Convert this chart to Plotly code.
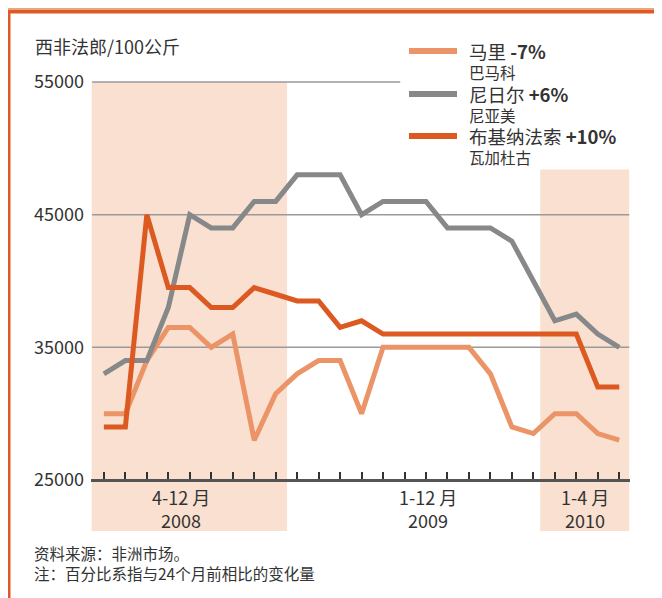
import plotly.graph_objects as go

# monthly prices, April 2008 - April 2010 (CFA francs / 100 kg)
years = ["2008", "2009", "2010"]
year_months = [list(range(4, 13)), list(range(1, 13)), list(range(1, 5))]
month_labels = ["4-12 月", "1-12 月", "1-4 月"]
months = [f"{y}-{m:02d}" for y, ms in zip(years, year_months) for m in ms]

mali = [30000, 30000, 34000, 36500, 36500, 35000, 36000, 28000, 31500, 33000,
        34000, 34000, 30000, 35000, 35000, 35000, 35000, 35000, 33000, 29000,
        28500, 30000, 30000, 28500, 28000]
niger = [33000, 34000, 34000, 38000, 45000, 44000, 44000, 46000, 46000, 48000,
         48000, 48000, 45000, 46000, 46000, 46000, 44000, 44000, 44000, 43000,
         40000, 37000, 37500, 36000, 35000]
burkina = [29000, 29000, 45000, 39500, 39500, 38000, 38000, 39500, 39000, 38500,
           38500, 36500, 37000, 36000, 36000, 36000, 36000, 36000, 36000, 36000,
           36000, 36000, 36000, 32000, 32000]

countries = ["马里", "尼日尔", "布基纳法索"]
changes = ["-7%", "+6%", "+10%"]
cities = ["巴马科", "尼亚美", "瓦加杜古"]
series = [mali, niger, burkina]
colors = ["#EA9467", "#87888A", "#DC5A21"]

yticks = [25000, 35000, 45000, 55000]

# page has an 8px body margin, so the figure is drawn 8px in from the corner
OFF = 8
W, H = 662 - OFF, 598 - OFF
ML, MR, MT, MB = 83, 32, 70, 67
PW, PH = W - ML - MR, H - MT - MB
YMIN, YMAX = 21155, 55300
FONT = "Noto Sans CJK SC"
TXT = "#333333"
SHADE = "#F9E0D0"


# page pixel -> paper coordinates
def px(x):
    return (x - OFF - ML) / PW


def py(y):
    return (H - MB - (y - OFF)) / PH


fig = go.Figure()

for name, vals, color in zip(countries, series, colors):
    fig.add_scatter(x=months, y=vals, mode="lines", name=name,
                    line=dict(color=color, width=5), showlegend=False)

shapes = []
# shaded years (2008, 2010)
shapes.append(dict(type="rect", xref="x", yref="y", x0=-0.57, x1=8.53,
                   y0=YMIN, y1=yticks[-1], fillcolor=SHADE, line_width=0, layer="below"))
shapes.append(dict(type="rect", xref="x", yref="y", x0=20.32, x1=24.46,
                   y0=YMIN, y1=48400, fillcolor=SHADE, line_width=0, layer="below"))
# gridlines
for v in yticks[1:]:
    x1 = 13.8 if v == yticks[-1] else 24.47
    shapes.append(dict(type="line", xref="x", yref="y", x0=-0.55, x1=x1, y0=v, y1=v,
                       line=dict(color="#9A9A9A", width=1.5), layer="below"))

# frame decoration
shapes.append(dict(type="rect", xref="paper", yref="paper", x0=px(0), x1=px(662),
                   y0=py(OFF), y1=py(10), fillcolor="#EDA57D", line_width=0))
shapes.append(dict(type="rect", xref="paper", yref="paper", x0=px(OFF), x1=px(662),
                   y0=py(10), y1=py(13.5), fillcolor="#DE5A24", line_width=0))
shapes.append(dict(type="rect", xref="paper", yref="paper", x0=px(OFF), x1=px(OFF + 2.5),
                   y0=py(10), y1=py(598), fillcolor="#DE5A24", line_width=0))

annotations = []
# legend
leg_y = [51, 94, 136]
for c, ch, city, color, ly in zip(countries, changes, cities, colors, leg_y):
    shapes.append(dict(type="line", xref="paper", yref="paper", x0=px(409), x1=px(457),
                       y0=py(ly), y1=py(ly), line=dict(color=color, width=6)))
    annotations.append(dict(
        xref="paper", yref="paper", x=px(467), y=py(ly - 15),
        text=f"<span style='font-size:18.5px'>{c} <b>{ch}</b></span><br>{city}",
        showarrow=False, xanchor="left", yanchor="top", align="left",
        font=dict(size=15.5, color=TXT)))

# unit title
annotations.append(dict(xref="paper", yref="paper", x=px(33), y=py(46),
                        text="西非法郎/100公斤", showarrow=False, xanchor="left",
                        yanchor="middle", font=dict(size=18, color=TXT)))

# x group labels
label_x = [3.6, 15.1, 22.4]
for yr, ml, lx in zip(years, month_labels, label_x):
    annotations.append(dict(xref="x", yref="paper", x=lx, y=py(497), text=ml,
                            showarrow=False, yanchor="middle", font=dict(size=18, color=TXT)))
    annotations.append(dict(xref="x", yref="paper", x=lx, y=py(520), text=yr,
                            showarrow=False, yanchor="middle", font=dict(size=18, color=TXT)))

# notes
annotations.append(dict(xref="paper", yref="paper", x=px(32), y=py(563),
                        text="资料来源：非洲市场。<br>注：百分比系指与24个月前相比的变化量",
                        showarrow=False, xanchor="left", yanchor="middle", align="left",
                        font=dict(size=15.5, color=TXT)))

fig.update_layout(
    width=W, height=H,
    margin=dict(l=ML, r=MR, t=MT, b=MB),
    paper_bgcolor="white", plot_bgcolor="white",
    font=dict(family=FONT, color=TXT),
    shapes=shapes, annotations=annotations,
    showlegend=False,
)
fig.update_xaxes(
    type="category", range=[-0.6, 24.5],
    anchor="free", position=(yticks[0] - YMIN) / (YMAX - YMIN),
    showgrid=False, zeroline=False,
    showline=True, linecolor="#555555", linewidth=2.5,
    ticks="inside", ticklen=7, tickwidth=1.5, tickcolor="#333333",
    tickvals=months, showticklabels=False,
)
fig.update_yaxes(
    range=[YMIN, YMAX], tickvals=yticks, tickformat="d",
    showgrid=False, zeroline=False,
    showline=False, ticks="", ticklabelstandoff=6,
    tickfont=dict(size=18, color=TXT),
)

fig.write_html("out.html")
